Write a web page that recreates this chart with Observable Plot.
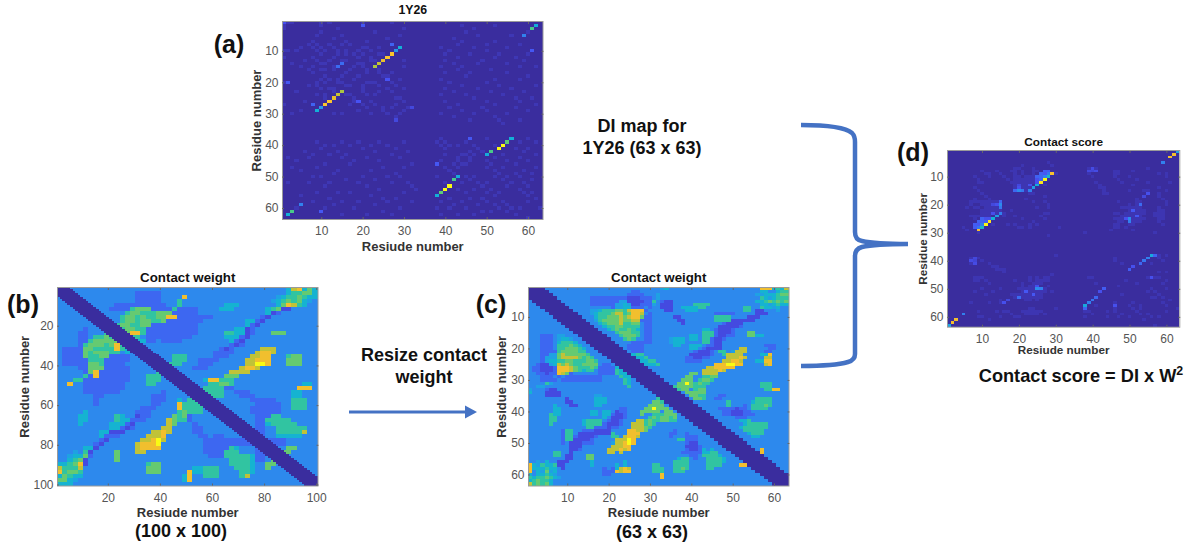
<!DOCTYPE html>
<html><head><meta charset="utf-8">
<script src="https://cdn.jsdelivr.net/npm/d3@7"></script>
<script src="https://cdn.jsdelivr.net/npm/@observablehq/plot@0.6"></script>
<style>
html,body{margin:0;padding:0;background:#fff;}
#page{position:relative;width:1190px;height:545px;overflow:hidden;font-family:"Liberation Sans",Arial,sans-serif;}
#page svg{position:absolute;background:none;overflow:visible;}
.t{position:absolute;font-weight:bold;color:#111;white-space:nowrap;transform:translate(-50%,-50%);}
.t sup{font-size:.68em;line-height:0;vertical-align:.5em;}
g[aria-label="cell"]{filter:blur(.55px);}
</style></head><body><div id="page"></div>
<script>
// Parula-like colour scale of the maps
const parulaStops=[0,.11,.24,.365,.49,.62,.75,.87,1];
const parulaColors=["#3A2D9E","#4752F4","#2796EB","#12B1D6","#37C897","#81CC59","#DCBD29","#FCC030","#F9FB14"];
// Grid characters -> map value
const levelValues={"0":0,"1":.085,"2":.15,"3":.215,"4":.29,"5":.375,"6":.47,"7":.57,"8":.71,"9":.83,"Y":1};
const baseLevel="3";
const xTicks63=[10,20,30,40,50,60];
const xTicks100=[20,40,60,80,100];

// (a) DI map: strong contacts, [row,col,value], the map is symmetric
const diStrong=[[15,23,.68],[14,24,.72],[13,25,.8],[12,26,.88],[11,27,.88],[10,28,.24],[9,29,.36],
[38,56,.36],[39,55,.58],[40,54,.92],[41,53,1],[42,51,.5],[43,50,.27],
[50,43,.34],[51,42,.52],[53,41,1],[54,40,1],[55,39,.56],[56,38,.36],
[2,62,.36],[3,61,.52],[5,59,.2],[10,61,.12],[8,27,.14],[14,15,.16],[2,20,.09],[1,1,.1],[20,2,.12],[26,19,.11],[38,46,.12],[46,38,.12],[28,32,.08]];
// (a) faint background contacts, [row,[cols]]
const diFaint=[[1,[2,3,12,20,27]],[2,[44,52]],[3,[14,30,47]],[4,[10,23,45,60]],[5,[9,15,29,48,56]],[6,[13,26,42]],[7,[8,16,21,44,52]],[8,[9,15,43,50,58]],[9,[8,13,20,39,47,55]],[10,[1,2,9,14,22,41,50]],[11,[10,16,24,40,46,53,60]],[12,[8,13,19,43,52,57]],[13,[9,15,22,30,40,49,59]],[14,[11,20,42,48,55]],[15,[18,30,39,44,58,62]],[16,[10,13,24,43,51]],[17,[8,16,21,27,40,46,55]],[18,[11,19,26,45,60]],[19,[10,14,29,39,52,58]],[20,[11,15,21,41,50]],[21,[9,16,24,28,44,53,62]],[22,[12,20,30,40,48,56]],[23,[13,20,27,42,51,59]],[24,[9,17,23,39,45,54]],[25,[11,18,28,47,57,61]],[26,[22,30,40,50,58]],[27,[20,28,43,52,62]],[28,[21,41,49,57]],[29,[25,30,44,50,60]],[30,[26,39,47,55]],[31,[28,42,52]],[32,[28,46,58]],[38,[39,50,60]],[39,[40,45,58,62]],[40,[43,47,52]],[41,[40,48,57,60]],[42,[46,49,59]],[43,[44,47,54,62]],[44,[46,52,58]],[45,[43,50,55,60]],[46,[45,51,57]],[47,[50,54,62]],[48,[52,59]],[49,[53,57,61]],[50,[52,55,58]],[51,[54,61]],[52,[56,59]],[53,[32,55,60]],[54,[33,58]],[55,[59,61]],[56,[60]],[57,[62]],[58,[60]],[60,[63]]];

// (d) contact score: strong contacts and mid-level contacts, [row,col,value]
const scoreStrong=[[9,29,.86],[10,28,.4],[11,27,1],[12,26,.95],[13,25,.36],[14,24,.28],[15,23,.2],
[1,63,.3],[2,62,.84],[3,61,.84],[5,59,.2],[38,56,.33],[39,55,.2],[40,54,.17],[41,53,.16],[42,51,.1],[43,50,.09],
[50,43,.13],[51,42,.1],[53,41,.15],[54,40,.18],[55,39,.2],[56,38,.33],[57,38,.14]];
const scoreMid=[[8,27,.13],[8,28,.13],[9,26,.18],[9,27,.22],[9,28,.22],[10,25,.2],[10,26,.2],[10,27,.18],[11,26,.14],[11,25,.1],[12,25,.1],[15,19,.15],[15,20,.25],[15,21,.2],[13,23,.1],[19,15,.15],[20,15,.22],[21,15,.18],[20,14,.1],[20,13,.08],[25,10,.14],[26,9,.14],[26,10,.15],[27,9,.12],[27,10,.2],[28,9,.18],[25,50,.22],[26,50,.2],[25,49,.1],[22,51,.12],[24,52,.12],[20,53,.16],[39,8,.1],[41,8,.12],[40,8,.07],[16,55,.1],[17,54,.08],[46,56,.1],[8,39,.08],[8,41,.09],[7,40,.09]];
const scoreFaint=[[5,[28]],[6,[21,29]],[7,[19,20,24,39,41,55]],[8,[10,14,18,19,21,24,25,40,46,47,51]],[9,[11,12,15,19,21,24,30,39,46,47,58,60]],[10,[12,16,19,20,22,23,24,40,46,50,60]],[11,[17,19,20,21,22,23,24,47,52]],[12,[18,19,20,21,22,23,24,41,48,55,61]],[13,[19,20,21,22,27,42,51]],[14,[19,20,21,22,23,42,43,58]],[15,[22,43,50,54,55,60]],[16,[23,24,43,44,58]],[17,[27,58]],[18,[22,52,59]],[19,[24,27,47,52,53,60]],[20,[28,50,52,60]],[21,[25,28,48,49,50,51,52,53,58]],[22,[50,52,53,54,58,59]],[23,[27,28,46,47,49,50,51,52,53,54,57,58,59]],[24,[26,48,49,50,51,53,57,58,59]],[25,[27,46,47,48,51,52,53,54,58,59]],[26,[47,48,51,52,53,58]],[27,[46,47,50,51,59]],[28,[31,46,47,49]],[29,[45,51]],[30,[38,57]],[38,[58,60]],[39,[46,58]],[40,[46,59]],[41,[48,56]],[44,[58,60]],[46,[55,57,58]],[47,[49,60]],[48,[52,59]],[50,[56,60]],[51,[55,57]],[52,[58]],[53,[56,57,59]],[54,[61]],[55,[59]],[56,[60]],[57,[63]],[58,[60]]];

// (c) contact weight 63 x 63, upper triangle read row by row, columns in groups of ten
const weight63=[
"0000333333 3333333333 3333333333 3345333333 3333333333 3333339995 658",
".000033333 3333333333 3333322333 3333333333 3333333333 3333335533 566",
"..00003333 3333333333 3333222233 3433333333 3333333333 3333344555 677",
"...0000333 3333322222 2222111222 3433333333 3333333333 3333336545 666",
"....000033 3333322222 2244111122 6321133333 3333333333 3333355676 767",
".....00003 3333322222 2445411222 4311133333 6666333333 3333335545 655",
"......0000 3333333333 2445522232 3311133555 5663333333 3366336554 533",
".......000 0333344566 6776899923 3331133355 5333333333 3366311333 433",
"........00 0033345666 7886799832 3333333333 3333322222 3333311133 333",
".........0 0003335667 7787899722 3333311333 3333366663 3331113333 333",
".......... 0000334677 7787788222 3333331133 3333366661 1111133333 333",
".......... .000033567 7786677322 3333333133 3333333211 1133333333 333",
".......... ..00003356 6776666322 3333333333 3333331111 1233333333 333",
".......... ...0000335 6766765322 3333333333 3355321112 3333333333 333",
".......... ....000033 3677766322 3333333333 3366621112 3337733333 333",
".......... .....00003 3367776322 3333333335 5366621122 3337755333 333",
".......... ......0000 3336763322 3333455535 5366211233 3333333333 333",
".......... .......000 0333322222 3333455533 3366211333 3333333333 333",
".......... ........00 0033222233 3333355335 5532211333 3333333222 333",
".......... .........0 0003222233 3333333335 5321111333 3883333322 333",
".......... .......... 0000322233 3333333333 2111236634 8883333223 333",
".......... .......... .000056633 3333333331 1111233688 8833335593 333",
".......... .......... ..00005563 3333333322 1122333388 8983333883 333",
".......... .......... ...0000556 6333333322 2233333889 9833355993 333",
".......... .......... ....000055 5633333333 33333999YY 9933333893 333",
".......... .......... .....00003 3333333333 3338899999 3333333333 333",
".......... .......... ......0000 3333333333 3388889833 3333333333 333",
".......... .......... .......000 0333333337 7388883333 3333333333 333",
".......... .......... ........00 0033333377 3366773333 3333333333 333",
".......... .......... .........0 0003333777 3677633333 3333333333 333",
".......... .......... .......... 00003377Y7 6766333333 3333336663 333",
".......... .......... .......... .000067777 6663333333 3333336663 333",
".......... .......... .......... ..00006773 6773333333 3333333669 933",
".......... .......... .......... ...0000377 7773333333 3333333333 333",
".......... .......... .......... ....000037 7663332233 3333333333 333",
".......... .......... .......... .....00003 7763322333 3333366663 333",
".......... .......... .......... ......0000 3333333363 3333566663 333",
".......... .......... .......... .......000 0333333363 3323666763 333",
".......... .......... .......... ........00 0033332222 1223666633 333",
".......... .......... .......... .........0 0003333221 1122333333 333",
".......... .......... .......... .......... 0000333221 1122233333 333",
".......... .......... .......... .......... .000033333 2223333333 333",
".......... .......... .......... .......... ..00003333 3556333333 333",
".......... .......... .......... .......... ...0000333 3356666633 333",
".......... .......... .......... .......... ....000033 3566666633 333",
".......... .......... .......... .......... .....00003 3366666333 333",
".......... .......... .......... .......... ......0000 3335666333 333",
".......... .......... .......... .......... .......000 0333553333 333",
".......... .......... .......... .......... ........00 0033333333 333",
".......... .......... .......... .......... .........0 0003333333 333",
".......... .......... .......... .......... .......... 0000333333 333",
".......... .......... .......... .......... .......... .000039333 333",
".......... .......... .......... .......... .......... ..00009333 333",
".......... .......... .......... .......... .......... ...0000333 333",
".......... .......... .......... .......... .......... ....000033 333",
".......... .......... .......... .......... .......... .....00003 333",
".......... .......... .......... .......... .......... ......0000 333",
".......... .......... .......... .......... .......... .......000 033",
".......... .......... .......... .......... .......... ........00 003",
".......... .......... .......... .......... .......... .........0 000",
".......... .......... .......... .......... .......... .......... 000",
".......... .......... .......... .......... .......... .......... .00",
".......... .......... .......... .......... .......... .......... ..0"];

// (b) contact weight 100 x 100, upper triangle read in blocks of two residues, columns in groups of ten
const weight100=[
"3333333333 3333333333 3333333333 3333333333 3333589575",
"3333333333 3333322222 3333333333 3333333333 3333566775",
"3333333333 3333322222 3333933333 3333333333 3345667655",
"3333333333 3333322222 3336333333 3333333333 3456767543",
"3333333333 3222222222 2336333333 3355533333 3357986533",
"3333333333 2222677722 2262222333 3555333333 5671133333",
"3333333333 3336776667 7722222333 3333333333 5123333333",
"3333333333 3367767667 7992222222 3333333332 1333333333",
"3333333333 3367767766 7222222233 3333335521 3333333333",
"3333333333 3677667722 2222222333 3333335213 3333333333",
"3333333333 3367766222 2222222333 3333551233 3333333333",
"3333333333 3367996222 2222222333 3366551233 3777333333",
"3333333333 3333663222 2222223333 3355521333 3333333333",
"3333333333 3333355223 2222333333 3335213333 3333333333",
"3333333333 3333333333 3333333333 3332123333 3333333333",
"3333333333 3333333333 3333333333 3212333338 8833333333",
"3333333333 3333333333 3333333333 2222333389 9833333333",
"3333333333 3333333333 3366633333 2223333889 9333677333",
"3333333333 3333333333 3366633222 2333338899 9333777333",
"3333333333 3333333333 3666333222 33333388YY 9333777333",
"3333333333 3333333333 3333332223 3333389983 3333333333",
"3333333333 3333333333 3333333333 3338888333 3333333333",
"3333333333 3333333333 3333333333 3377733333 3333333333",
"3333333333 3333333333 3333333359 9666333333 3333333333",
"3333333333 3333333333 3333333336 6776333333 3333333553",
"3333333333 3333333333 3333333366 6622333333 3333339993",
"3333333333 3333333333 3333333366 6633222333 3333355333",
"3333333333 3333333333 3333333336 6633322233 3333355333",
"3333333333 3333333333 3333333333 3333333222 2233366633",
"3333333333 3333333333 3333333333 3333333322 2223366633",
"3333333333 3333333333 3333333333 3333333222 2223366633",
"3333333333 3333333333 3333333333 3333333222 2223333333",
"3333333333 3333333333 3333333333 3333333322 2663333333",
"3333333333 3333333333 3333333333 3333333322 6666633333",
"3333333333 3333333333 3333333333 3333333322 5666663333",
"3333333333 3333333333 3333333333 3333333322 3366666633",
"3333333333 3333333333 3333333333 3333333322 3366666833",
"3333333333 3333333333 3333333333 3333333332 3355555333",
"3333333333 3333333333 3333333333 3333333333 2222333333",
"3333333333 3333333333 3333333333 3333333333 3222333333",
"3333333333 3333333333 3333333333 3333333333 3333773333",
"3333333333 3333333333 3333333333 3333333333 3337733333"];
const weight100BandHalfWidth=4;

// Shape the named lists into tables for the cell marks
const range=n=>d3.range(1,n+1);
function parseGrid(rows){return rows.map(r=>r.replace(/ /g,""));}
function gridCells(n,rows,block,band){
  const g=parseGrid(rows),out=[];
  for(const i of range(n))for(const j of range(n)){
    const a=Math.min(i,j),b=Math.max(i,j);
    const row=g[Math.ceil(a/block)-1]||"";
    const ch=row[Math.ceil(b/block)-1];
    const v=(band!==undefined&&b-a<=band)?0:(levelValues[ch]??levelValues[baseLevel]);
    out.push({i,j,v});
  }
  return out;
}
function sparseCells(n,strong,faint,faintValue,mid){
  const m=new Map();
  const put=(r,c,v)=>{m.set(r*1000+c,v);m.set(c*1000+r,v);};
  for(const [r,cols] of faint)for(const c of cols)put(r,c,faintValue);
  for(const [r,c,v] of (mid||[]))put(r,c,v);
  for(const [r,c,v] of strong)put(r,c,v);
  const out=[];
  for(const i of range(n))for(const j of range(n))out.push({i,j,v:m.get(i*1000+j)||0});
  return out;
}

function panel({n,cells,left,top,w,h,ticks,title,titleSize,xl,labelSize,yl,xlDy,ylDx,titleDy}){
  const mL=50,mT=22,mB=44,mR=6;
  const txt={textAnchor:"middle",lineAnchor:"middle",fontWeight:"bold"};
  const chart=Plot.plot({
    width:w+mL+mR,height:h+mT+mB,marginLeft:mL,marginTop:mT,marginBottom:mB,marginRight:mR,
    style:{background:"none",fontFamily:'"Liberation Sans",Arial,sans-serif'},
    x:{type:"band",domain:range(n),padding:0,round:false,axis:null},
    y:{type:"band",domain:range(n),padding:0,round:false,axis:null},
    color:{type:"linear",domain:parulaStops,range:parulaColors,clamp:true},
    marks:[
      Plot.cell(cells,{x:"j",y:"i",fill:"v",shapeRendering:"crispEdges"}),
      Plot.frame({stroke:"#9a9a9a",strokeWidth:1}),
      Plot.axisX(ticks,{anchor:"bottom",tickSize:-2,tickPadding:9,fontSize:12,color:"#555",stroke:"#666",label:null}),
      Plot.axisY(ticks,{anchor:"left",tickSize:-2,tickPadding:6,fontSize:12,color:"#555",stroke:"#666",label:null}),
      Plot.axisX(ticks,{anchor:"top",tickSize:-2,tickFormat:()=>"",stroke:"#666",label:null}),
      Plot.axisY(ticks,{anchor:"right",tickSize:-2,tickFormat:()=>"",stroke:"#666",label:null}),
      Plot.text([title],{...txt,frameAnchor:"top",dy:titleDy,fontSize:titleSize,fill:"#111"}),
      Plot.text([xl],{...txt,frameAnchor:"bottom",dy:xlDy,fontSize:labelSize,fill:"#333"}),
      Plot.text([yl],{...txt,frameAnchor:"left",dx:ylDx,rotate:-90,fontSize:labelSize,fill:"#333"})
    ]
  });
  chart.style.left=(left-mL)+"px";chart.style.top=(top-mT)+"px";
  document.getElementById("page").appendChild(chart);
}

panel({n:63,cells:sparseCells(63,diStrong,diFaint,.03),left:282,top:21,w:260.5,h:198,ticks:xTicks63,title:"1Y26",titleSize:12.3,xl:"Resiude number",labelSize:13,yl:"Residue number",xlDy:27,ylDx:-26,titleDy:-11});
panel({n:100,cells:gridCells(100,weight100,2,weight100BandHalfWidth),left:57,top:286.5,w:260.5,h:198.5,ticks:xTicks100,title:"Contact weight",titleSize:13.3,xl:"Resiude number",labelSize:13,yl:"Residue number",xlDy:27,ylDx:-33,titleDy:-9.5});
panel({n:63,cells:gridCells(63,weight63,1),left:527.7,top:286.5,w:260.5,h:198.5,ticks:xTicks63,title:"Contact weight",titleSize:13.3,xl:"Resiude number",labelSize:13,yl:"Residue number",xlDy:27,ylDx:-27,titleDy:-9.5});
panel({n:63,cells:sparseCells(63,scoreStrong,scoreFaint,.025,scoreMid),left:946.7,top:150,w:232.3,h:176.7,ticks:xTicks63,title:"Contact score",titleSize:11.8,xl:"Resiude number",labelSize:11.7,yl:"Residue number",xlDy:23.5,ylDx:-24,titleDy:-8});

// Figure annotations
const notes=[["(a)",229,44,25],["(b)",23,304,25],["(c)",491,304,25],["(d)",913,152,25],
["DI map for",642,126,18],["1Y26 (63 x 63)",642,148,18],["Resize contact",424,355,18],["weight",424,377,18],
["(100 x 100)",181,531,18],["(63 x 63)",652,532,18]];
const page=document.getElementById("page");
for(const [s,x,y,f] of notes){const d=document.createElement("div");d.className="t";d.textContent=s;d.style.left=x+"px";d.style.top=y+"px";d.style.fontSize=f+"px";page.appendChild(d);}
const eq=document.createElement("div");eq.className="t";eq.innerHTML="Contact score = DI x W<sup>2</sup>";eq.style.left="1081px";eq.style.top="376px";eq.style.fontSize="18.2px";page.appendChild(eq);
const NS="http://www.w3.org/2000/svg";
const connector=document.createElementNS(NS,"svg");
connector.setAttribute("width",1190);connector.setAttribute("height",545);connector.style.left="0";connector.style.top="0";
connector.innerHTML=`<path d="M801 125 C825 125 845 127 852 133 Q855 136 855 142 V232 Q855 240 862 241 C875 244 890 244 908 244 C890 244 875 244 862 247 Q855 249 855 256 V354 Q855 360 848 362 C838 365 820 366 801 366" fill="none" stroke="#4472C4" stroke-width="4.5"/>
<path d="M349 410.5 H465 V405.5 L477 412 L465 418.5 V413.5 H349 Z" fill="#4472C4"/>`;
page.appendChild(connector);
</script></body></html>
